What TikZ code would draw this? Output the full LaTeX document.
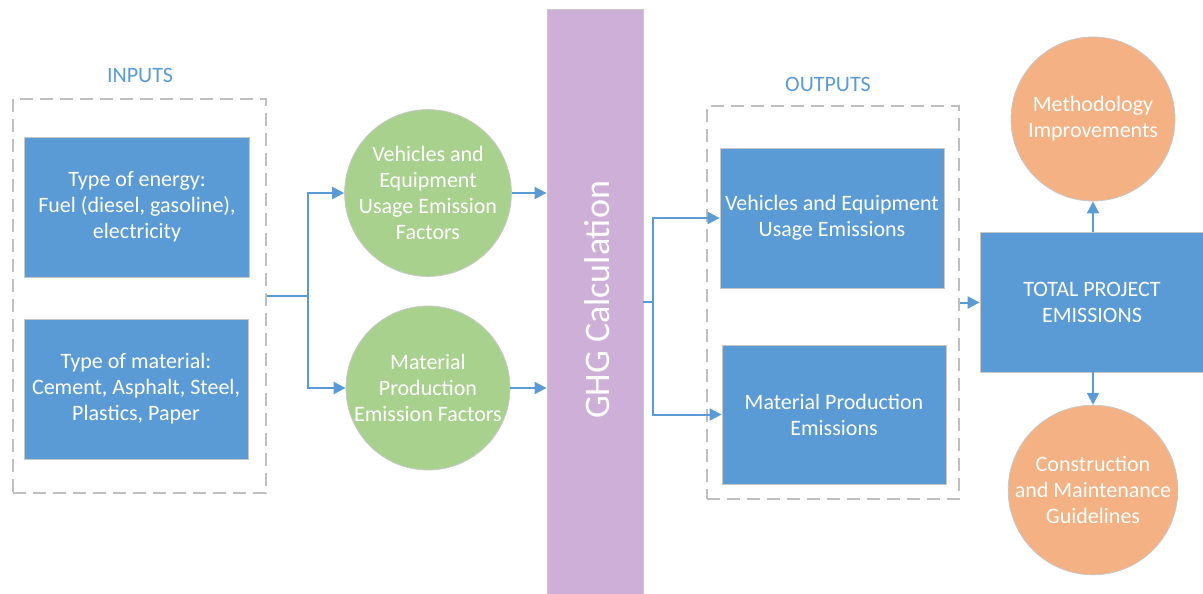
\documentclass[tikz,border=0pt]{standalone}
\usepackage{fontspec}
\setmainfont{Carlito}
\usetikzlibrary{arrows.meta}
\definecolor{bluefill}{HTML}{5B9BD5}
\definecolor{greenfill}{HTML}{A9D18E}
\definecolor{orangefill}{HTML}{F4B183}
\definecolor{purplefill}{HTML}{CDAFD8}
\definecolor{edgegray}{HTML}{C8C8C8}
\definecolor{dashgray}{HTML}{BFBFBF}
\tikzset{
  bluebox/.style={rectangle, fill=bluefill, draw=edgegray, line width=0.8pt, inner sep=0pt, text=white, align=center, font=\fontsize{22}{26}\selectfont},
  greencirc/.style={circle, fill=greenfill, draw=edgegray, line width=0.8pt, inner sep=0pt, minimum size=164pt, text=white, align=center, font=\fontsize{22}{26}\selectfont},
  orangecirc/.style={circle, fill=orangefill, draw=edgegray, line width=0.8pt, inner sep=0pt, minimum size=164pt, text=white, align=center, font=\fontsize{22}{26}\selectfont},
  groupbox/.style={rectangle, draw=dashgray, line width=1.2pt, dash pattern=on 13pt off 7pt, inner sep=0pt},
  grouplabel/.style={text=bluefill, font=\fontsize{22}{26}\selectfont},
  conn/.style={draw=bluefill, line width=2pt, -{Triangle[length=12pt,width=12pt]}},
  connplain/.style={draw=bluefill, line width=2pt},
}
\begin{document}
\begin{tikzpicture}[x=1pt,y=-1pt]
\useasboundingbox (0,0) rectangle (1203,594);
% inputs
\node[grouplabel] (inlabel) at (140,75) {INPUTS};
\node[groupbox, minimum width=253pt, minimum height=394pt] (inbox) at (139.5,296) {};
\node[bluebox, minimum width=225pt, minimum height=140pt] (energy) at (137,207) {Type of energy:\\Fuel (diesel, gasoline),\\electricity};
\node[bluebox, minimum width=224pt, minimum height=140pt] (material) at (136,389) {Type of material:\\Cement, Asphalt, Steel,\\Plastics, Paper};
% factor circles
\node[greencirc] (vef) at (428,193) {Vehicles and\\Equipment\\Usage Emission\\Factors};
\node[greencirc] (mef) at (428,388) {Material\\Production\\Emission Factors};
% GHG bar
\node[rectangle, fill=purplefill, draw=edgegray, line width=0.8pt, minimum width=96pt, minimum height=586pt, inner sep=0pt] (ghg) at (595,302) {};
\node[rotate=90, text=white, font=\fontsize{36}{42}\selectfont] (ghgtext) at (597,300) {GHG Calculation};
% outputs
\node[grouplabel] (outlabel) at (828,84) {OUTPUTS};
\node[groupbox, minimum width=252pt, minimum height=393pt] (outbox) at (833,302.5) {};
\node[bluebox, minimum width=224pt, minimum height=140pt] (vue) at (832,218) {Vehicles and Equipment\\Usage Emissions};
\node[bluebox, minimum width=224pt, minimum height=139pt] (mpe) at (834,414.5) {Material Production\\Emissions};
% total
\node[bluebox, minimum width=224pt, minimum height=140pt] (total) at (1092,302) {TOTAL PROJECT\\EMISSIONS};
\node[orangecirc] (meth) at (1093,119) {Methodology\\Improvements};
\node[orangecirc] (guide) at (1093,490) {Construction\\and Maintenance\\Guidelines};
% connectors
\coordinate (j1) at (308,296);
\coordinate (j2) at (653,302);
\draw[connplain] (inbox.east) -- (j1);
\draw[conn] (j1) |- (vef.west);
\draw[conn] (j1) |- (mef.west);
\draw[conn] (vef.east) -- (ghg.west |- vef.east);
\draw[conn] (mef.east) -- (ghg.west |- mef.east);
\draw[connplain] (ghg.east |- j2) -- (j2);
\draw[conn] (j2) |- (vue.west);
\draw[conn] (j2) |- (mpe.west);
\draw[conn] (outbox.east) -- (total.west |- outbox.east);
\draw[conn] (total.north -| meth.south) -- (meth.south);
\draw[conn] (total.south -| guide.north) -- (guide.north);
\end{tikzpicture}
\end{document}
